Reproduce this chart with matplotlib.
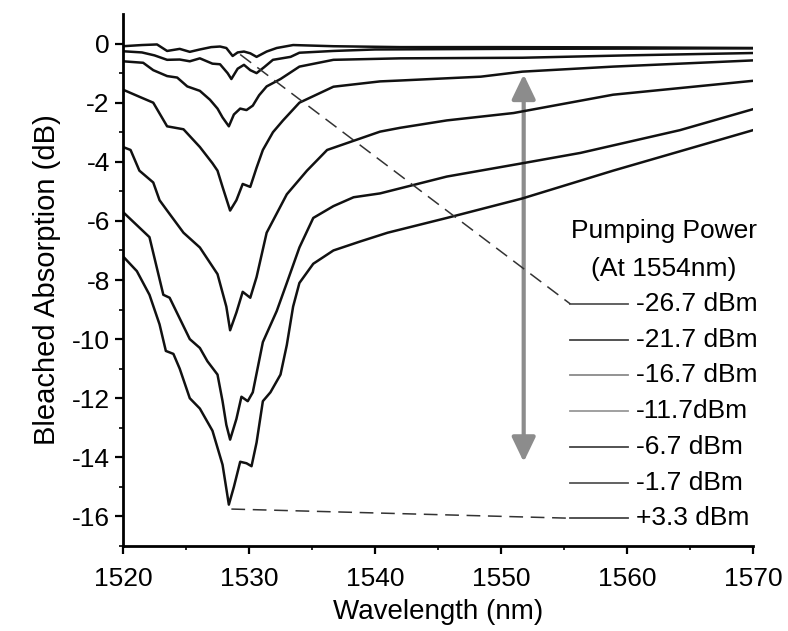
import numpy as np
import matplotlib
matplotlib.use("Agg")
import matplotlib.pyplot as plt
from matplotlib.patches import FancyArrowPatch

plt.rcParams["font.family"] = ["Liberation Sans", "DejaVu Sans"]
plt.rcParams["axes.unicode_minus"] = False

# wavelength (nm) / bleached absorption (dB)
wl_a = [1520, 1521.5, 1522.7, 1523.5, 1524.5, 1525.3, 1526.1, 1527, 1527.7, 1528.2, 1528.7, 1529.1, 1529.6, 1530.1, 1530.6, 1531.4, 1532.2, 1533.5, 1536.7, 1542, 1550, 1560, 1570]
ab_a = [-0.09, -0.05, -0.03, -0.25, -0.18, -0.28, -0.2, -0.12, -0.1, -0.15, -0.42, -0.3, -0.27, -0.33, -0.45, -0.27, -0.15, -0.05, -0.09, -0.12, -0.12, -0.13, -0.15]

wl_b = [1520, 1521.5, 1522.5, 1523.5, 1524.5, 1525.3, 1526.1, 1527.1, 1527.7, 1528.3, 1528.6, 1529.1, 1529.6, 1530.1, 1530.6, 1531.2, 1531.9, 1533.3, 1534, 1536.7, 1540, 1550, 1560, 1570]
ab_b = [-0.26, -0.3, -0.4, -0.55, -0.54, -0.6, -0.5, -0.68, -0.7, -1.0, -1.2, -0.85, -0.72, -0.9, -1.0, -0.8, -0.55, -0.45, -0.31, -0.25, -0.2, -0.18, -0.17, -0.16]

wl_c = [1520, 1521.6, 1522.4, 1523.5, 1524.3, 1525.1, 1526.1, 1526.9, 1527.5, 1527.9, 1528.4, 1528.8, 1529.3, 1529.8, 1530.3, 1530.8, 1531.4, 1532.5, 1534, 1536.7, 1542, 1551.7, 1560, 1570]
ab_c = [-0.6, -0.65, -0.9, -1.1, -1.15, -1.45, -1.6, -1.9, -2.2, -2.5, -2.8, -2.4, -2.2, -2.25, -2.1, -1.75, -1.45, -1.2, -0.78, -0.55, -0.5, -0.48, -0.4, -0.32]

wl_d = [1520, 1521.3, 1522.4, 1523.5, 1524.8, 1526.1, 1527.1, 1527.5, 1527.9, 1528.5, 1529, 1529.5, 1530.1, 1530.6, 1531.1, 1531.9, 1532.7, 1534, 1536.7, 1540.4, 1542, 1548.4, 1551.7, 1558.9, 1570]
ab_d = [-1.56, -1.8, -2.0, -2.8, -2.9, -3.5, -4.05, -4.3, -4.85, -5.65, -5.3, -4.75, -4.85, -4.2, -3.6, -3.0, -2.6, -2.0, -1.46, -1.28, -1.25, -1.12, -0.95, -0.78, -0.57]

wl_e = [1520, 1520.6, 1521.3, 1522.4, 1522.9, 1523.5, 1524.8, 1526.1, 1527.5, 1528.2, 1528.5, 1529, 1529.5, 1530.1, 1530.6, 1531.4, 1533, 1534.6, 1536.2, 1540.4, 1542, 1545.7, 1551, 1558.9, 1570]
ab_e = [-3.5, -3.6, -4.3, -4.7, -5.3, -5.65, -6.4, -6.9, -7.8, -8.9, -9.7, -9.1, -8.4, -8.6, -7.9, -6.4, -5.1, -4.3, -3.6, -2.98, -2.85, -2.6, -2.35, -1.73, -1.26]

wl_f = [1520, 1522.1, 1523.2, 1523.7, 1524.5, 1525.3, 1526.1, 1526.7, 1527.5, 1527.9, 1528.2, 1528.5, 1529, 1529.4, 1529.9, 1530.3, 1531.1, 1532.2, 1533, 1534, 1535.1, 1536.7, 1538.3, 1540.4, 1545.7, 1551.7, 1556.3, 1564.2, 1570]
ab_f = [-5.7, -6.55, -8.5, -8.6, -9.3, -10.0, -10.3, -10.75, -11.2, -12.1, -12.9, -13.4, -12.7, -11.95, -12.1, -11.8, -10.1, -9.05, -8.1, -6.9, -5.9, -5.5, -5.2, -5.07, -4.5, -4.05, -3.7, -2.93, -2.22]

wl_g = [1520, 1521.1, 1522.1, 1522.9, 1523.4, 1524, 1524.5, 1525.3, 1526.1, 1527.1, 1527.9, 1528.4, 1528.8, 1529.3, 1529.8, 1530.2, 1530.6, 1531.1, 1531.7, 1532.5, 1533, 1533.5, 1534, 1535.1, 1536.7, 1538.8, 1541, 1545.7, 1551.7, 1558.9, 1570]
ab_g = [-7.2, -7.7, -8.5, -9.5, -10.4, -10.5, -11.0, -12.0, -12.35, -13.1, -14.25, -15.6, -15.0, -14.15, -14.2, -14.3, -13.5, -12.1, -11.8, -11.2, -10.2, -8.9, -8.1, -7.45, -7.0, -6.7, -6.4, -5.9, -5.24, -4.3, -2.93]

powers = ["-26.7 dBm", "-21.7 dBm", "-16.7 dBm", "-11.7dBm", "-6.7 dBm", "-1.7 dBm", "+3.3 dBm"]
legend_greys = ["#555555", "#444444", "#8a8a8a", "#999999", "#444444", "#555555", "#444444"]

curves = [(wl_a, ab_a), (wl_b, ab_b), (wl_c, ab_c), (wl_d, ab_d),
          (wl_e, ab_e), (wl_f, ab_f), (wl_g, ab_g)]

fig = plt.figure(figsize=(7.88, 6.31), dpi=100)
ax = fig.add_axes([0.1561, 0.1347, 0.7995, 0.8431])

for wl, ab in curves:
    ax.plot(wl, ab, color="#111111", lw=1.8, solid_joinstyle="round")

# double arrow showing increasing pump power
arr = FancyArrowPatch((1551.8, -0.95), (1551.8, -14.25),
                      arrowstyle="<|-|>,head_length=0.75,head_width=0.36",
                      mutation_scale=20, color="#8c8c8c", lw=3.0)
ax.add_patch(arr)

# legend block drawn by hand, as in the original
leg_y = np.linspace(-8.81, -16.06, len(powers))
for lab, c, y in zip(powers, legend_greys, leg_y):
    ax.plot([1555.5, 1560.1], [y, y], color=c, lw=1.3)
    ax.text(1560.7, y, lab, fontsize=19, va="center", ha="left")
ax.text(1562.9, -6.33, "Pumping Power", fontsize=19, ha="center", va="center")
ax.text(1562.9, -7.62, "(At 1554nm)", fontsize=19, ha="center", va="center")

# dashed leader lines
ax.plot([1529.3, 1555.5], [-0.37, leg_y[0]], color="#333333", lw=1.1, ls=(0, (9, 5)))
ax.plot([1528.6, 1555.5], [-15.75, leg_y[-1]], color="#333333", lw=1.1, ls=(0, (9, 5)))

ax.set_xlim(1520, 1570)
ax.set_ylim(-17, 1)
ax.set_xticks(np.arange(1520, 1571, 10))
ax.set_xticks(np.arange(1520, 1571, 5), minor=True)
ax.set_yticks(np.arange(-16, 1, 2))
ax.set_yticks(np.arange(-17, 1, 1), minor=True)
ax.tick_params(which="major", direction="out", length=6, width=1.6, labelsize=19)
ax.tick_params(axis="x", which="major", pad=9)
ax.tick_params(which="minor", direction="out", length=3, width=1.2)
ax.spines["top"].set_visible(False)
ax.spines["right"].set_visible(False)
ax.spines["left"].set_linewidth(2)
ax.spines["bottom"].set_linewidth(2)

ax.set_xlabel("Wavelength (nm)", fontsize=20, labelpad=6)
ax.set_ylabel("Bleached Absorption (dB)", fontsize=21, labelpad=8)

fig.savefig("out.png", dpi=100)
